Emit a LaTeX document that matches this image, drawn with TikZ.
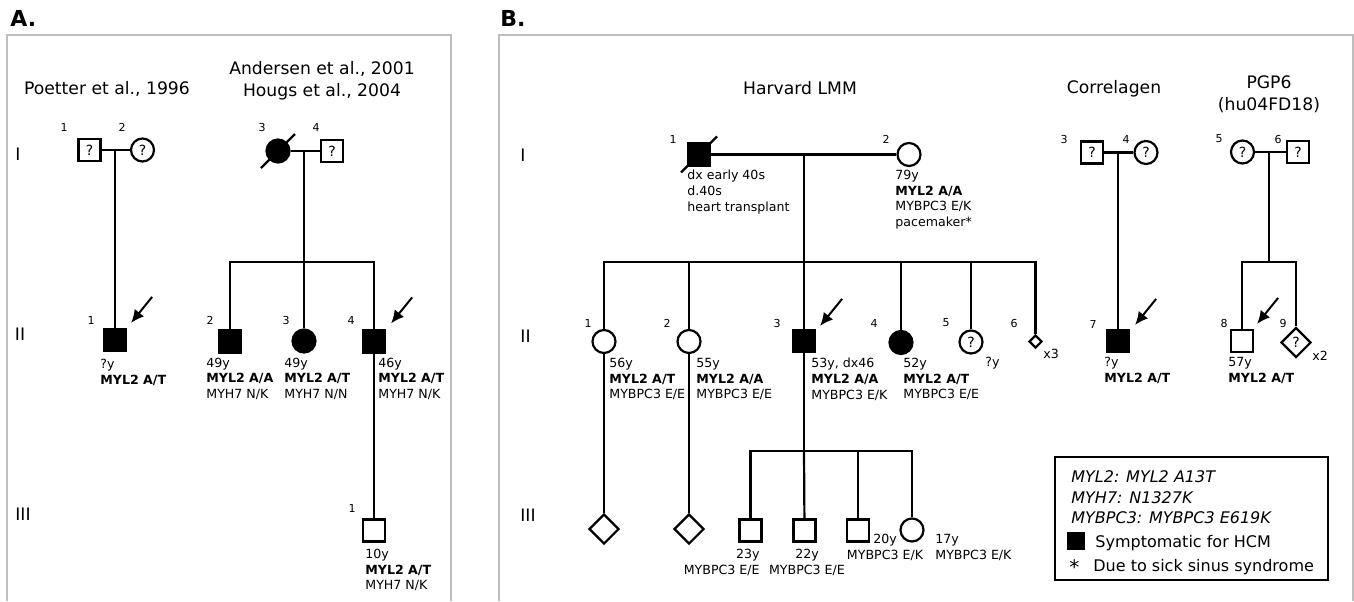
\documentclass[tikz,border=0pt]{standalone}
\usepackage{fontspec}
\setmainfont{DejaVu Sans}
\usepackage{tikz}
\usetikzlibrary{arrows.meta,positioning,shapes.geometric}
\definecolor{inkBlack}{RGB}{0,0,0}
\definecolor{inkFrame}{RGB}{190,190,190}
\newcommand{\pedinfo}{\fontsize{6.3pt}{7.8pt}\selectfont}
\newcommand{\pednum}{\fontsize{5.5pt}{6.5pt}\selectfont}
\newcommand{\pedhead}{\fontsize{8.6pt}{11pt}\selectfont}
\newcommand{\pedmark}{\fontsize{7pt}{8pt}\selectfont}
\newcommand{\pedkey}{\fontsize{8pt}{10pt}\selectfont}
\tikzset{
  male/.style={draw, rectangle, minimum size=11pt, inner sep=0pt, line width=1.1pt, font=\pedmark},
  female/.style={draw, circle, minimum size=11.5pt, inner sep=0pt, line width=1.1pt, font=\pedmark},
  anysex/.style={draw, diamond, aspect=1, minimum size=15pt, inner sep=0pt, line width=1.1pt, font=\pedmark},
  hcm/.style={fill=inkBlack},
  idnum/.style={font=\pednum, inner sep=0pt},
  info/.style={font=\pedinfo, align=left, inner sep=0pt, anchor=north west},
  famhead/.style={font=\pedhead, inner sep=0pt, align=center},
  genlab/.style={font=\pedhead, inner sep=0pt, anchor=base},
  panellab/.style={font=\fontsize{11pt}{13pt}\selectfont\bfseries, inner sep=0pt, anchor=base west},
  link/.style={line width=1.1pt},
  proband/.style={{Latex[length=6.5pt,width=6pt]}-, line width=1pt},
  panelframe/.style={draw=inkFrame, line width=0.8pt},
  keytext/.style={font=\pedkey, inner sep=0pt, anchor=base west},
}

\begin{document}
\begin{tikzpicture}[x=0.5pt, y=-0.5pt]
\useasboundingbox (0,0) rectangle (1354,601);

\node[panellab] (labA) at (10,26) {A.};
\node[panellab] (labB) at (500,26) {B.};
\draw[panelframe] (7,601) -- (7,35) -- (451,35) -- (451,601);
\draw[panelframe] (499,601) -- (499,35) -- (1353,35) -- (1353,601);

\node[genlab] (gAI) at (18,160) {I};
\node[genlab] (gAII) at (20,340) {II};
\node[genlab] (gAIII) at (23,520) {III};
\node[genlab] (gBI) at (523,161.5) {I};
\node[genlab] (gBII) at (525.5,342) {II};
\node[genlab] (gBIII) at (528,521.5) {III};

\node[famhead, anchor=base] (tP) at (107,94) {Poetter et al., 1996};
\node[famhead, anchor=north] (tA) at (322,61) {Andersen et al., 2001\\Hougs et al., 2004};
\node[famhead, anchor=base] (tH) at (800,94) {Harvard LMM};
\node[famhead, anchor=base] (tC) at (1114,93.5) {Correlagen};
\node[famhead, anchor=north] (tG) at (1269,75) {PGP6\\(hu04FD18)};

\node[male] (P1) at (89.5,150) {?};
\node[female] (P2) at (142.5,150) {?};
\node[male, hcm] (P3) at (115,340) {};
\coordinate (mP) at (115,150);
\draw[link] (P1) -- (P2);
\draw[link] (mP) -- (P3);
\draw[proband] ([shift={(2pt,2.5pt)}]P3.north east) -- ++(10.5pt,13pt);
\node[idnum] (nP1) at (64,127.5) {1};
\node[idnum] (nP2) at (122,127.5) {2};
\node[idnum] (nP3) at (91,320) {1};
\node[info] (iP3) at (100,359) {?y\\\textbf{MYL2 A/T}};

\node[female, hcm] (A1) at (278,151) {};
\node[male] (A2) at (332,151) {?};
\draw[link] ([shift={(-8.5pt,-8.5pt)}]A1.center) -- ([shift={(8.5pt,8.5pt)}]A1.center);
\coordinate (mA) at (304,151);
\coordinate (sA) at (304,262);
\node[male, hcm] (A3) at (230,341.5) {};
\node[female, hcm] (A4) at (304,341) {};
\node[male, hcm] (A5) at (374,341.5) {};
\node[male] (A6) at (374,530.5) {};
\draw[link] (A1) -- (A2);
\draw[link] (mA) -- (sA);
\draw[link] (sA) -| (A3);
\draw[link] (sA) -- (A4);
\draw[link] (sA) -| (A5);
\draw[link] (A5) -- (A6);
\draw[proband] ([shift={(2.5pt,3pt)}]A5.north east) -- ++(10.5pt,13pt);
\node[idnum] (nA1) at (262,127.5) {3};
\node[idnum] (nA2) at (316,127.5) {4};
\node[idnum] (nA3) at (210,320) {2};
\node[idnum] (nA4) at (286,320) {3};
\node[idnum] (nA5) at (351,320) {4};
\node[idnum] (nA6) at (352,508) {1};
\node[info] (iA3) at (206,357.5) {49y\\\textbf{MYL2 A/A}\\MYH7 N/K};
\node[info] (iA4) at (284,357.5) {49y\\\textbf{MYL2 A/T}\\MYH7 N/N};
\node[info] (iA5) at (378,357.5) {46y\\\textbf{MYL2 A/T}\\MYH7 N/K};
\node[info] (iA6) at (365,549) {10y\\\textbf{MYL2 A/T}\\MYH7 N/K};

\node[male, hcm] (H1) at (699,154.5) {};
\node[female] (H2) at (909,154.5) {};
\draw[link] ([shift={(-9pt,-9pt)}]H1.center) -- ([shift={(9pt,9pt)}]H1.center);
\coordinate (mH) at (804,154.5);
\coordinate (sH) at (804,262);
\node[female] (H3) at (604,341.5) {};
\node[female] (H4) at (689,341.5) {};
\node[male, hcm] (H5) at (804,341) {};
\node[female, hcm] (H6) at (901,342.5) {};
\node[female] (H7) at (971,342) {?};
\node[anysex, minimum size=6.5pt] (H8) at (1035.5,341.5) {};
\node[anysex] (H9) at (604,529) {};
\node[anysex] (H10) at (689,529) {};
\coordinate (sH3) at (804,451);
\node[male] (H11) at (750.5,530.5) {};
\node[male] (H12) at (804.5,530.5) {};
\node[male] (H13) at (858,530.5) {};
\node[female] (H14) at (912,530) {};
\draw[link] (H1) -- (H2);
\draw[link] (mH) -- (sH);
\draw[link] (sH) -| (H3);
\draw[link] (sH) -| (H4);
\draw[link] (sH) -- (H5);
\draw[link] (sH) -| (H6);
\draw[link] (sH) -| (H7);
\draw[link] (sH) -| (H8);
\draw[link] (H3) -- (H9);
\draw[link] (H4) -- (H10);
\draw[link] (H5) -- (sH3);
\draw[link] (sH3) -| (H11);
\draw[link] (sH3) -- (H12);
\draw[link] (sH3) -| (H13);
\draw[link] (sH3) -| (H14);
\draw[proband] ([shift={(2pt,1.5pt)}]H5.north east) -- ++(11pt,13.5pt);
\node[idnum] (nH1) at (673,139) {1};
\node[idnum] (nH2) at (886,139) {2};
\node[idnum] (nH3) at (588,323) {1};
\node[idnum] (nH4) at (667,323) {2};
\node[idnum] (nH5) at (777,323) {3};
\node[idnum] (nH6) at (874,323) {4};
\node[idnum] (nH7) at (946,323) {5};
\node[idnum] (nH8) at (1014,323) {6};
\node[info] (iH1) at (687,170) {dx early 40s\\d.40s\\heart transplant};
\node[info] (iH2) at (895,170) {79y\\\textbf{MYL2 A/A}\\MYBPC3 E/K\\pacemaker*};
\node[info] (iH3) at (609,358) {56y\\\textbf{MYL2 A/T}\\MYBPC3 E/E};
\node[info] (iH4) at (696,358) {55y\\\textbf{MYL2 A/A}\\MYBPC3 E/E};
\node[info] (iH5) at (811,358) {53y, dx46\\\textbf{MYL2 A/A}\\MYBPC3 E/K};
\node[info] (iH6) at (903,358) {52y\\\textbf{MYL2 A/T}\\MYBPC3 E/E};
\node[info] (iH7) at (985,357) {?y};
\node[info] (iH8) at (1043,349) {x3};
\node[info, anchor=north east, align=right] (iH11) at (760,549) {23y\\MYBPC3 E/E};
\node[info, anchor=north, align=center] (iH12) at (807,549) {22y\\MYBPC3 E/E};
\node[info, anchor=north, align=center] (iH13) at (885,534) {20y\\MYBPC3 E/K};
\node[info] (iH14) at (935,534) {17y\\MYBPC3 E/K};

\node[male] (C1) at (1092,152.5) {?};
\node[female] (C2) at (1146,152.5) {?};
\coordinate (mC) at (1118,152.5);
\node[male, hcm] (C3) at (1118,341) {};
\draw[link] (C1) -- (C2);
\draw[link] (mC) -- (C3);
\draw[proband] ([shift={(2.5pt,2pt)}]C3.north east) -- ++(10.5pt,13pt);
\node[idnum] (nC1) at (1064,139) {3};
\node[idnum] (nC2) at (1126,139) {4};
\node[idnum] (nC3) at (1093,324) {7};
\node[info] (iC3) at (1104,357) {?y\\\textbf{MYL2 A/T}};

\node[female] (G1) at (1242.5,152) {?};
\node[male] (G2) at (1298,152) {?};
\coordinate (mG) at (1269,152);
\coordinate (sG) at (1269,262);
\node[male] (G3) at (1242,341) {};
\node[anysex] (G4) at (1296,342.5) {?};
\draw[link] (G1) -- (G2);
\draw[link] (mG) -- (sG);
\draw[link] (sG) -| (G3);
\draw[link] (sG) -| (G4);
\draw[proband] ([shift={(1.5pt,2.5pt)}]G3.north east) -- ++(10.5pt,13pt);
\node[idnum] (nG1) at (1219,139) {5};
\node[idnum] (nG2) at (1278,139) {6};
\node[idnum] (nG3) at (1224,323) {8};
\node[idnum] (nG4) at (1283,323) {9};
\node[info] (iG3) at (1228,357) {57y\\\textbf{MYL2 A/T}};
\node[info] (iG4) at (1312,351) {x2};

\draw[line width=0.8pt] (1055,457) rectangle (1328,580);
\node[keytext] (k1) at (1071,482) {\itshape MYL2: MYL2 A13T};
\node[keytext] (k2) at (1071,503) {\itshape MYH7: N1327K};
\node[keytext] (k3) at (1071,523) {\itshape MYBPC3: MYBPC3 E619K};
\node[draw, fill=inkBlack, minimum size=8.5pt, inner sep=0pt] (kSq) at (1076,540.5) {};
\node[keytext] (k4) at (1095,547.5) {Symptomatic for HCM};
\node[keytext, font=\fontsize{10pt}{12pt}\selectfont] (kStar) at (1069,574) {*};
\node[keytext] (k5) at (1093,571) {Due to sick sinus syndrome};
\end{tikzpicture}
\end{document}
